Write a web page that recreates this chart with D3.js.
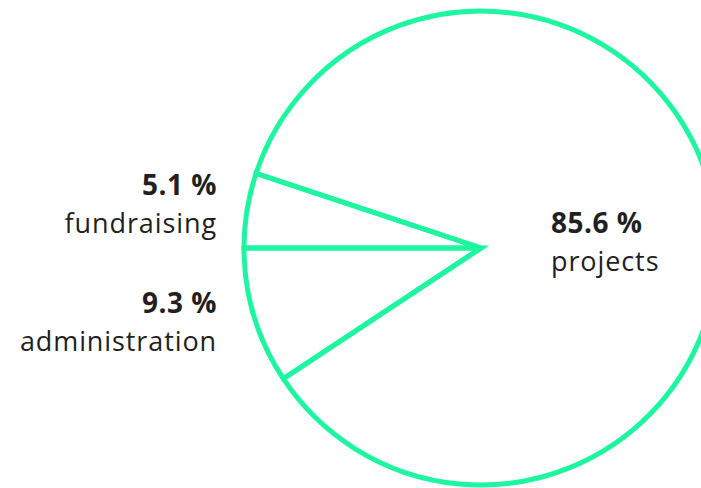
<!DOCTYPE html>
<html>
<head>
    <meta charset="UTF-8">
    <title>Spending</title>
    <script src="https://cdn.jsdelivr.net/npm/d3@7/dist/d3.min.js"></script>
    <style>
        body { margin: 0; background: #fff; }
        text { font-family: "Open Sans", sans-serif; fill: #231f20; }
    </style>
</head>
<body>
    <script>
        // shares in percent, in drawing order (clockwise from the lower-left wedge)
        var categories = ['administration', 'fundraising', 'projects']
        var shares = [9.3, 5.1, 85.6]

        var width = 701, height = 488
        var cx = 481, cy = 248, r = 237
        var green = '#1ef5a0'

        var svg = d3.select('body')
            .append('svg')
            .attr('width', width)
            .attr('height', height)

        // admin wedge ends exactly at 9 o'clock
        var start = 1.5 * Math.PI - shares[0] / 100 * 2 * Math.PI

        var pie = d3.pie()
            .sort(null)
            .startAngle(start)
            .endAngle(start + 2 * Math.PI)

        var arc = d3.arc()
            .innerRadius(0)
            .outerRadius(r)

        var arcs = pie(shares)

        var g = svg.append('g')
            .attr('transform', 'translate(' + cx + ',' + cy + ')')

        g.selectAll('path')
            .data(arcs)
            .enter()
            .append('path')
            .attr('d', arc)
            .attr('fill', 'none')
            .attr('stroke', green)
            .attr('stroke-width', 5)
            .attr('stroke-linejoin', 'miter')

        // labels: small wedges go on the left, the big one inside
        var labelPos = [
            { x: 217, y: 313, anchor: 'end' },
            { x: 217, y: 195, anchor: 'end' },
            { x: 551, y: 233, anchor: 'start' }
        ]

        var fmt = function(v){ return d3.format('.1f')(v) + ' %' }

        var lab = svg.selectAll('g.label')
            .data(arcs)
            .enter()
            .append('g')
            .attr('class', 'label')
            .attr('text-anchor', function(d, i){ return labelPos[i].anchor })

        lab.append('text')
            .attr('x', function(d, i){ return labelPos[i].x })
            .attr('y', function(d, i){ return labelPos[i].y })
            .attr('font-size', 28)
            .attr('font-weight', 700)
            .attr('letter-spacing', 0.5)
            .text(function(d){ return fmt(d.data) })

        lab.append('text')
            .attr('x', function(d, i){ return labelPos[i].x })
            .attr('y', function(d, i){ return labelPos[i].y + 38 })
            .attr('font-size', 27)
            .attr('letter-spacing', 0.9)
            .text(function(d, i){ return categories[i] })
    </script>
</body>
</html>
